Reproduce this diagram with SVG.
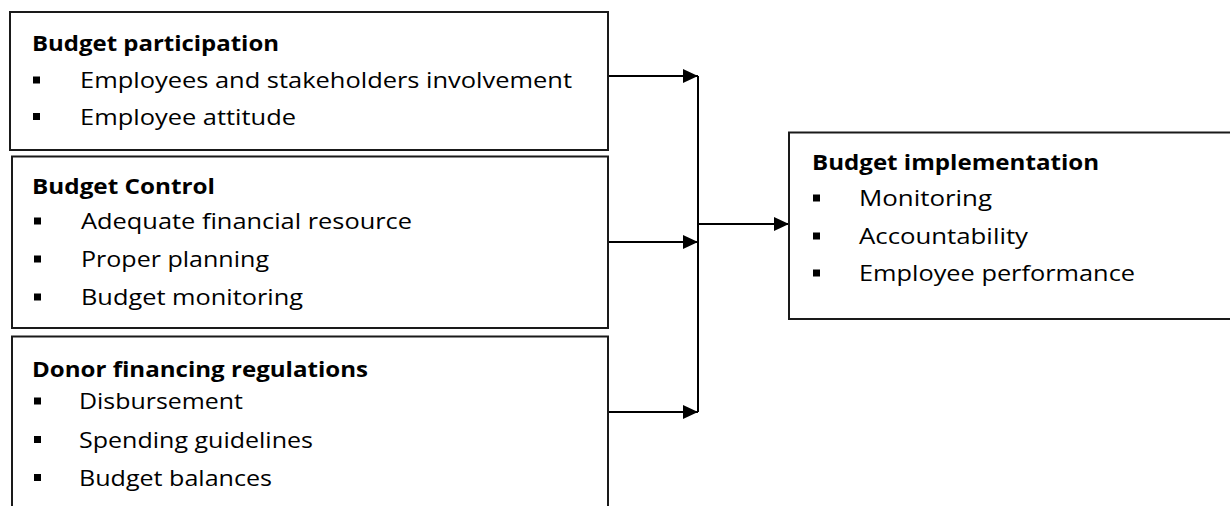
<svg xmlns="http://www.w3.org/2000/svg" width="1230" height="506" viewBox="0 0 1230 506">
<style>
.box{fill:#fff;stroke:#1a1a1a;stroke-width:2}
.t{font-family:"Open Sans","Liberation Sans",sans-serif;font-size:22px;fill:#000}
.h{font-weight:bold}
.b{fill:#000}
.c{stroke:#000;stroke-width:2;fill:none}
</style>
<defs>
<marker id="ah" markerUnits="userSpaceOnUse" viewBox="0 0 15 14" refX="15" refY="7" markerWidth="15" markerHeight="14" orient="auto">
<path d="M0,0 L15,7 L0,14 z" fill="#000"/>
</marker>
</defs>
<rect width="1230" height="506" fill="#fff"/>
<g id="connectors">
<line class="c" x1="608" y1="76" x2="698" y2="76" marker-end="url(#ah)"/>
<line class="c" x1="608" y1="242" x2="698" y2="242" marker-end="url(#ah)"/>
<line class="c" x1="608" y1="412" x2="698" y2="412" marker-end="url(#ah)"/>
<line class="c" x1="698" y1="76" x2="698" y2="412" stroke-width="1.6"/>
<line class="c" x1="698" y1="224" x2="789" y2="224" marker-end="url(#ah)"/>
</g>
<g id="budget-participation">
<rect class="box" x="10" y="12" width="598" height="138"/>
<text class="t h" x="32" y="51" textLength="247" lengthAdjust="spacingAndGlyphs">Budget participation</text>
<rect class="b" x="33" y="76.5" width="7" height="7"/>
<text class="t" x="80" y="88" textLength="492" lengthAdjust="spacingAndGlyphs">Employees and stakeholders involvement</text>
<rect class="b" x="33" y="113" width="7" height="7"/>
<text class="t" x="80" y="124.5" textLength="216" lengthAdjust="spacingAndGlyphs">Employee attitude</text>
</g>
<g id="budget-control">
<rect class="box" x="12" y="156.5" width="596" height="171.5"/>
<text class="t h" x="32" y="194" textLength="183" lengthAdjust="spacingAndGlyphs">Budget Control</text>
<rect class="b" x="34" y="217.5" width="7" height="7"/>
<text class="t" x="81" y="229" textLength="331" lengthAdjust="spacingAndGlyphs">Adequate financial resource</text>
<rect class="b" x="34" y="255.5" width="7" height="7"/>
<text class="t" x="81" y="267" textLength="188" lengthAdjust="spacingAndGlyphs">Proper planning</text>
<rect class="b" x="34" y="293.5" width="7" height="7"/>
<text class="t" x="81" y="305" textLength="222" lengthAdjust="spacingAndGlyphs">Budget monitoring</text>
</g>
<g id="donor-financing">
<rect class="box" x="12" y="336.5" width="596" height="200"/>
<text class="t h" x="32" y="377" textLength="336" lengthAdjust="spacingAndGlyphs">Donor financing regulations</text>
<rect class="b" x="34" y="397.5" width="7" height="7"/>
<text class="t" x="79" y="409" textLength="164" lengthAdjust="spacingAndGlyphs">Disbursement</text>
<rect class="b" x="34" y="436" width="7" height="7"/>
<text class="t" x="79" y="447.5" textLength="234" lengthAdjust="spacingAndGlyphs">Spending guidelines</text>
<rect class="b" x="34" y="474" width="7" height="7"/>
<text class="t" x="79" y="485.5" textLength="193" lengthAdjust="spacingAndGlyphs">Budget balances</text>
</g>
<g id="budget-implementation">
<rect class="box" x="789" y="132.5" width="460" height="186.5"/>
<text class="t h" x="812" y="170" textLength="287" lengthAdjust="spacingAndGlyphs">Budget implementation</text>
<rect class="b" x="813" y="194.5" width="7" height="7"/>
<text class="t" x="859" y="206" textLength="133" lengthAdjust="spacingAndGlyphs">Monitoring</text>
<rect class="b" x="813" y="232.5" width="7" height="7"/>
<text class="t" x="859" y="244" textLength="169" lengthAdjust="spacingAndGlyphs">Accountability</text>
<rect class="b" x="813" y="269.5" width="7" height="7"/>
<text class="t" x="859" y="281" textLength="276" lengthAdjust="spacingAndGlyphs">Employee performance</text>
</g>
</svg>
